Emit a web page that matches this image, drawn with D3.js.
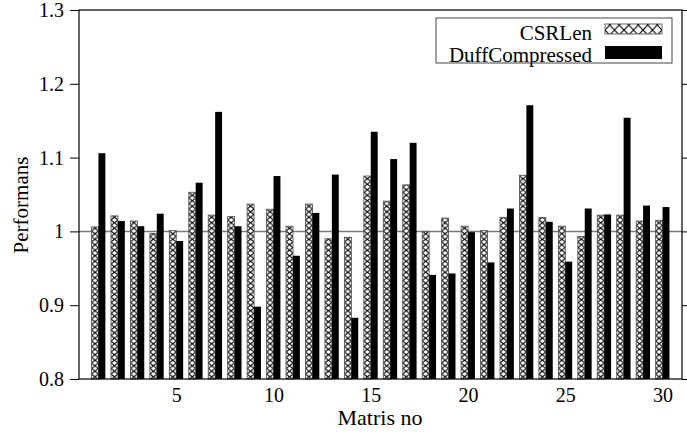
<!DOCTYPE html>
<html>
<head>
<meta charset="utf-8">
<script src="https://cdn.jsdelivr.net/npm/d3@7"></script>
<style>
  body { margin: 0; background: #fff; }
  text { font-family: "Liberation Serif", "Times New Roman", serif; }
</style>
</head>
<body>
<div id="content"></div>
<script>
// values
const matris = d3.range(1, 31);
const csrlen = [1.006, 1.021, 1.014, 0.997, 1.001, 1.053, 1.022, 1.020, 1.037, 1.030,
                1.007, 1.037, 0.990, 0.992, 1.075, 1.041, 1.063, 1.000, 1.018, 1.007,
                1.001, 1.019, 1.076, 1.019, 1.007, 0.993, 1.022, 1.022, 1.014, 1.015];
const duff = [1.106, 1.014, 1.007, 1.024, 0.987, 1.066, 1.162, 1.007, 0.898, 1.075,
              0.967, 1.025, 1.077, 0.883, 1.135, 1.098, 1.120, 0.941, 0.943, 0.999,
              0.958, 1.031, 1.171, 1.013, 0.959, 1.031, 1.023, 1.154, 1.035, 1.033];
const y_ticks = [0.8, 0.9, 1, 1.1, 1.2, 1.3];
const x_ticks = [5, 10, 15, 20, 25, 30];
const series_names = ["CSRLen", "DuffCompressed"];

const svg_w = 687, svg_h = 438;
const plot_left = 79, plot_right = 682, plot_top = 10, plot_bottom = 379;

var svg = d3.select("#content")
    .append("svg")
    .attr("width", svg_w)
    .attr("height", svg_h);

var x = d3.scaleLinear().domain([0, 31]).range([plot_left, plot_right]);
var y = d3.scaleLinear().domain([0.8, 1.3]).range([plot_bottom, plot_top]);
var bw = x(0.355) - x(0);

var defs = svg.append("defs");

function hatch(id, px, w, h) {
    var p = defs.append("pattern")
        .attr("id", id)
        .attr("patternUnits", "userSpaceOnUse")
        .attr("x", px)
        .attr("y", 0)
        .attr("width", w)
        .attr("height", h);
    p.append("rect").attr("width", w).attr("height", h).attr("fill", "#fff");
    p.append("path")
        .attr("d", "M0,0L" + w + "," + h + "M" + w + ",0L0," + h)
        .attr("stroke", "#000")
        .attr("stroke-width", 1.1)
        .attr("fill", "none");
}

// reference line at 1
svg.append("line")
    .attr("x1", plot_left).attr("x2", plot_right)
    .attr("y1", y(1)).attr("y2", y(1))
    .attr("stroke", "#7a7a7a")
    .attr("stroke-width", 1.5);

// CSRLen bars (hatched)
matris.forEach(function (n, i) {
    hatch("h" + i, x(n) - bw, bw, 5.5);
});
svg.append("g").selectAll("rect")
    .data(csrlen)
    .join("rect")
    .attr("x", (d, i) => x(matris[i]) - bw)
    .attr("y", d => y(d))
    .attr("width", bw)
    .attr("height", d => y(0.8) - y(d))
    .attr("fill", (d, i) => "url(#h" + i + ")")
    .attr("stroke", "#555")
    .attr("stroke-width", 0.9);

// DuffCompressed bars
svg.append("g").selectAll("rect")
    .data(duff)
    .join("rect")
    .attr("x", (d, i) => x(matris[i]))
    .attr("y", d => y(d))
    .attr("width", bw)
    .attr("height", d => y(0.8) - y(d))
    .attr("fill", "#000");

// frame
svg.append("rect")
    .attr("x", plot_left).attr("y", plot_top)
    .attr("width", plot_right - plot_left).attr("height", plot_bottom - plot_top)
    .attr("fill", "none")
    .attr("stroke", "#000")
    .attr("stroke-width", 1.2);

// axes
var y_axis = svg.append("g")
    .attr("transform", "translate(" + plot_left + ",0)")
    .call(d3.axisLeft(y).tickValues(y_ticks).tickSize(9).tickPadding(6)
        .tickFormat(d => String(+d.toFixed(1))));
y_axis.select(".domain").remove();
y_axis.selectAll("text").style("font-size", "20px").attr("fill", "#000")
    .style("font-family", "Liberation Serif");

var y_axis_r = svg.append("g")
    .attr("transform", "translate(" + plot_right + ",0)")
    .call(d3.axisRight(y).tickValues(y_ticks).tickSize(5).tickFormat(""));
y_axis_r.select(".domain").remove();

var x_axis = svg.append("g")
    .attr("transform", "translate(0," + plot_bottom + ")")
    .call(d3.axisBottom(x).tickValues(x_ticks).tickSize(0).tickPadding(9));
x_axis.select(".domain").remove();
x_axis.selectAll("text").style("font-size", "20px").attr("fill", "#000")
    .style("font-family", "Liberation Serif");

// axis titles
svg.append("text")
    .attr("x", 380).attr("y", 425)
    .attr("text-anchor", "middle")
    .style("font-size", "22px")
    .text("Matris no");

svg.append("text")
    .attr("transform", "translate(28,205) rotate(-90)")
    .attr("text-anchor", "middle")
    .style("font-size", "21px")
    .text("Performans");

// legend
var legend = svg.append("g");
legend.append("rect")
    .attr("x", 436).attr("y", 18)
    .attr("width", 236).attr("height", 45)
    .attr("fill", "#fff")
    .attr("stroke", "#444")
    .attr("stroke-width", 1);
legend.append("text")
    .attr("x", 592).attr("y", 40)
    .attr("text-anchor", "end")
    .style("font-size", "21px")
    .text(series_names[0]);
legend.append("text")
    .attr("x", 592).attr("y", 62)
    .attr("text-anchor", "end")
    .style("font-size", "21px")
    .text(series_names[1]);
hatch("hleg", 605, 9.5, 10);
legend.append("rect")
    .attr("x", 605).attr("y", 24)
    .attr("width", 57).attr("height", 10)
    .attr("fill", "url(#hleg)")
    .attr("stroke", "#555")
    .attr("stroke-width", 0.9);
legend.append("rect")
    .attr("x", 605).attr("y", 46)
    .attr("width", 57).attr("height", 13)
    .attr("fill", "#000");
</script>
</body>
</html>
